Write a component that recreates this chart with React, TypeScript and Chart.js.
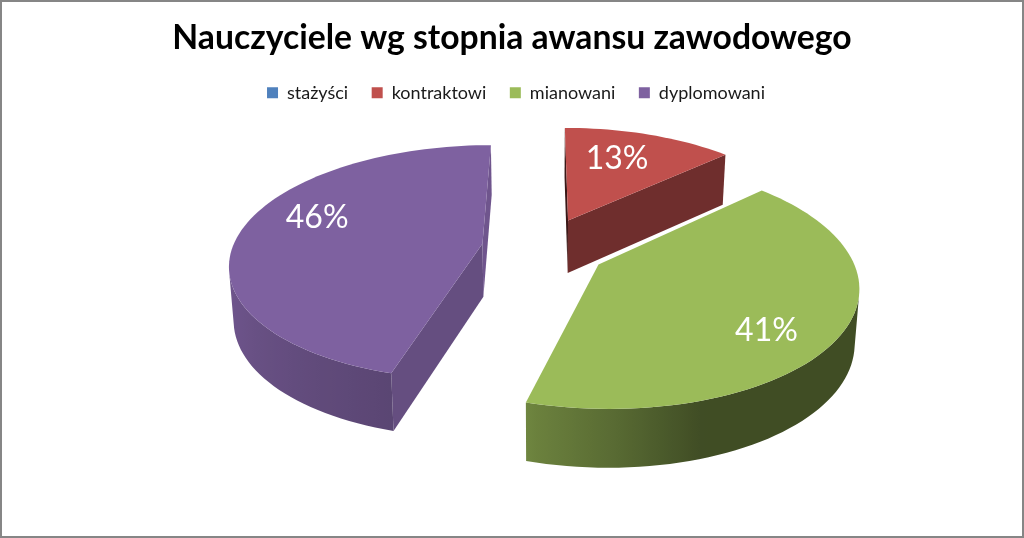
import React, { useEffect, useRef } from "react";
import { Chart, registerables } from "chart.js";

Chart.register(...registerables);

const titleText = "Nauczyciele wg stopnia awansu zawodowego";
const categories = ["stażyści", "kontraktowi", "mianowani", "dyplomowani"];
const shares = [0, 13.1, 41.3, 45.6];
const sliceColors = ["#4f81bd", "#c0504d", "#9bbb59", "#7e61a0"];

// view of the pie: perspective tilt and how far slices are pulled out
const VIEW = { shiftX: 32, A: 250, B: 115.5, k: 0.16, depth: 50, depthGrow: 25, shrink: 0.985, ex: 0.25, ey: 0.268 };
// label anchors: fraction of the radius and turn from the slice's middle, in degrees
const labelRadius = [0, 0.68, 0.77, 0.74];
const labelTurn = [0, -3.5, 9, 11];
// brightness of each slice's two cut faces
const startFace = [0, 0.3, 0.6, 0.8];
const endFace = [0, 0.58, 0.6, 0.88];

type P = [number, number];

function project(cx: number, cy: number, X: number, Y: number, bottom: boolean): P {
  const w = 1 / (1 - VIEW.k * Y);
  let dx = VIEW.A * X * w;
  let dy = VIEW.B * Y * w;
  if (bottom) {
    dx *= VIEW.shrink;
    dy += VIEW.depth + (w - 0.87) * VIEW.depthGrow;
  }
  return [cx + dx, cy + dy];
}

function wallShade(theta: number): number {
  const d = ((theta * 180) / Math.PI + 360) % 360;
  const stops: [number, number][] = [
    [0, 0.41], [162, 0.41], [180, 0.58], [195, 0.7], [196, 0.72], [270, 0.93], [360, 0.93],
  ];
  for (let i = 1; i < stops.length; i++) {
    if (d <= stops[i][0]) {
      const t = (d - stops[i - 1][0]) / (stops[i][0] - stops[i - 1][0]);
      return stops[i - 1][1] + t * (stops[i][1] - stops[i - 1][1]);
    }
  }
  return 0.9;
}

function shadeColor(hex: string, f: number): string {
  const n = parseInt(hex.slice(1), 16);
  const c = [(n >> 16) & 255, (n >> 8) & 255, n & 255].map((v) => Math.round(v * f));
  return `rgb(${c[0]},${c[1]},${c[2]})`;
}

function quadArea(q: P[]): number {
  let s = 0;
  for (let i = 0; i < q.length; i++) {
    const a = q[i];
    const b = q[(i + 1) % q.length];
    s += a[0] * b[1] - b[0] * a[1];
  }
  return s / 2;
}

function fillPoly(ctx: CanvasRenderingContext2D, pts: P[], color: any) {
  ctx.beginPath();
  pts.forEach((p, i) => (i ? ctx.lineTo(p[0], p[1]) : ctx.moveTo(p[0], p[1])));
  ctx.closePath();
  ctx.fillStyle = color;
  ctx.fill();
}

const pie3d = {
  id: "pie3d",
  afterLayout(chart: any) {
    // the legend sits a little right of the page centre
    chart.legend.left += 4;
    chart.legend.right += 4;
  },
  beforeDraw(chart: any) {
    const { ctx, width, height } = chart;
    ctx.save();
    ctx.fillStyle = "#ffffff";
    ctx.fillRect(0, 0, width, height);
    ctx.strokeStyle = "#868686";
    ctx.lineWidth = 2;
    ctx.strokeRect(1, 1, width - 2, height - 2);
    ctx.restore();
  },
  beforeDatasetsDraw(chart: any) {
    const ctx: CanvasRenderingContext2D = chart.ctx;
    const arcs = chart.getDatasetMeta(0).data;
    ctx.save();
    arcs.forEach((arc: any, idx: number) => {
      const start = arc.startAngle + Math.PI / 2;
      const end = arc.endAngle + Math.PI / 2;
      if (end - start <= 0) return;
      const color: string = arc.options.backgroundColor;
      const cx = arc.x + VIEW.shiftX;
      const cy = arc.y;
      const mid = (start + end) / 2;
      const ox = VIEW.ex * Math.sin(mid);
      const oy = -VIEW.ey * Math.cos(mid);
      const rim = (t: number, bottom: boolean) =>
        project(cx, cy, ox + Math.sin(t), oy - Math.cos(t), bottom);
      const apex = (bottom: boolean) => project(cx, cy, ox, oy, bottom);

      const steps = Math.ceil(((end - start) * 180) / Math.PI / 2);
      const ts: number[] = [];
      for (let i = 0; i <= steps; i++) ts.push(start + ((end - start) * i) / steps);

      // cut faces
      const wallA = [apex(false), rim(start, false), rim(start, true), apex(true)];
      const wallB = [rim(end, false), apex(false), apex(true), rim(end, true)];
      if (quadArea(wallA) < 0) fillPoly(ctx, wallA, shadeColor(color, startFace[idx]));
      if (quadArea(wallB) < 0) fillPoly(ctx, wallB, shadeColor(color, endFace[idx]));

      // outer wall: one polygon over the part that faces the viewer, shaded along x
      const seen: number[] = [];
      for (let i = 0; i < steps; i++) {
        const q = [rim(ts[i], false), rim(ts[i + 1], false), rim(ts[i + 1], true), rim(ts[i], true)];
        if (quadArea(q) < 0) seen.push(i);
      }
      if (seen.length) {
        const first = seen[0];
        const last = seen[seen.length - 1] + 1;
        const run = ts.slice(first, last + 1);
        const x0 = rim(run[0], false)[0];
        const x1 = rim(run[run.length - 1], false)[0];
        const grad = ctx.createLinearGradient(x0, 0, x1, 0);
        run.forEach((t) => {
          const u = (rim(t, false)[0] - x0) / (x1 - x0 || 1);
          grad.addColorStop(Math.min(1, Math.max(0, u)), shadeColor(color, wallShade(t)));
        });
        fillPoly(
          ctx,
          [...run.map((t) => rim(t, false)), ...run.slice().reverse().map((t) => rim(t, true))],
          grad
        );
      }
      // top face
      fillPoly(ctx, [apex(false), ...ts.map((t) => rim(t, false))], color);
    });
    // labels
    const total = shares.reduce((a, b) => a + b, 0);
    ctx.fillStyle = "#ffffff";
    ctx.font = "32px Lato, 'Open Sans', sans-serif";
    ctx.textAlign = "center";
    ctx.textBaseline = "middle";
    arcs.forEach((arc: any, idx: number) => {
      if (!shares[idx]) return;
      const start = arc.startAngle + Math.PI / 2;
      const end = arc.endAngle + Math.PI / 2;
      const mid = (start + end) / 2;
      const t = mid + (labelTurn[idx] * Math.PI) / 180;
      const r = labelRadius[idx];
      const p = project(
        arc.x + VIEW.shiftX,
        arc.y,
        VIEW.ex * Math.sin(mid) + r * Math.sin(t),
        -VIEW.ey * Math.cos(mid) - r * Math.cos(t),
        false
      );
      ctx.fillText(`${Math.round((shares[idx] / total) * 100)}%`, p[0], p[1]);
    });
    ctx.restore();
    return false;
  },
};

export default function App() {
  const ref = useRef<HTMLCanvasElement>(null);
  useEffect(() => {
    document.body.style.margin = "0";
    const chart = new Chart(ref.current!, {
      type: "pie",
      data: {
        labels: categories,
        datasets: [{ data: shares, backgroundColor: sliceColors, borderWidth: 0 }],
      },
      options: {
        responsive: false,
        animation: false,
        devicePixelRatio: 1,
        layout: { padding: { top: 13, bottom: 154 } },
        plugins: {
          title: {
            display: true,
            text: titleText,
            color: "#000000",
            font: { family: "Lato, sans-serif", size: 33.7, weight: "bold" },
            padding: { top: 4.8, bottom: 2 },
          },
          legend: {
            display: true,
            position: "top",
            labels: {
              boxWidth: 11,
              boxHeight: 11,
              color: "#1a1a1a",
              padding: 23.5,
              font: { family: "Lato, sans-serif", size: 18 },
            },
          },
          tooltip: { enabled: false },
        },
      },
      plugins: [pie3d],
    } as any);
    return () => chart.destroy();
  }, []);
  return <canvas ref={ref} width={1024} height={538} style={{ display: "block", width: 1024, height: 538 }} />;
}
